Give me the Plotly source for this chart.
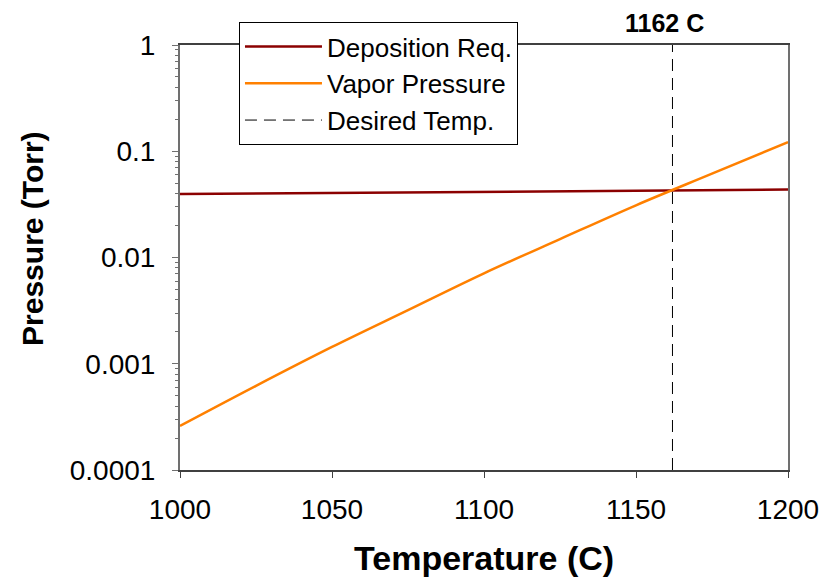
import plotly.graph_objects as go

temp = [1000, 1025, 1050, 1075, 1100, 1125, 1150, 1175, 1200]
deposition_req = [0.0395, 0.0400, 0.0405, 0.0410, 0.0415, 0.0420, 0.0425, 0.0430, 0.0436]
vapor_pressure = [0.00026, 0.00062, 0.00144, 0.0032, 0.0071, 0.0149, 0.031, 0.0615, 0.122]
desired_temp = 1162
y_ticks = [1e-4, 1e-3, 1e-2, 1e-1, 1]
y_ticktext = ["0.0001", "0.001", "0.01", "0.1", "1"]
x_ticks = [1000, 1050, 1100, 1150, 1200]

minor_vals = [m * 10 ** e for e in range(-4, 0) for m in range(2, 10)]

FONT = "Liberation Sans, Arial, sans-serif"

fig = go.Figure()
fig.add_trace(go.Scatter(x=temp, y=deposition_req, mode="lines", name="Deposition Req.",
                         line=dict(color="#8B0000", width=2.5)))
fig.add_trace(go.Scatter(x=temp, y=vapor_pressure, mode="lines", name="Vapor Pressure",
                         line=dict(color="#FF8000", width=2.5), line_shape="spline"))
fig.add_trace(go.Scatter(x=[desired_temp, desired_temp], y=[1e-4, 1], mode="lines",
                         name="Desired Temp.", line=dict(color="black", width=1, dash="12px,7px")))

fig.add_annotation(x=desired_temp, xref="x", y=1.051, yref="paper", text="<b>1162 C</b>",
                   showarrow=False, xshift=-8, yanchor="middle",
                   font=dict(size=25, color="black", family=FONT))
fig.add_annotation(x=0.5, xref="paper", y=-0.207, yref="paper", text="<b>Temperature (C)</b>",
                   showarrow=False, yanchor="middle", xanchor="center",
                   font=dict(size=34, color="black", family=FONT))
fig.add_annotation(x=-0.2418, xref="paper", y=0.546, yref="paper", text="<b>Pressure (Torr)</b>",
                   showarrow=False, textangle=-90, yanchor="middle", xanchor="center",
                   font=dict(size=30, color="black", family=FONT))

fig.update_layout(
    width=836, height=580,
    margin=dict(l=172, r=56, t=37, b=118),
    paper_bgcolor="white", plot_bgcolor="white",
    font=dict(family=FONT, color="black"),
    showlegend=True,
    legend=dict(x=0.097, y=1.054, xanchor="left", yanchor="top",
                bordercolor="black", borderwidth=1, bgcolor="white", itemwidth=77,
                font=dict(size=26, family=FONT), tracegroupgap=0),
    xaxis=dict(range=[1000, 1200], tickvals=x_ticks, ticks="outside", ticklen=6,
               tickcolor="#404040", showline=True, linecolor="#404040", linewidth=1.5,
               mirror=True, showgrid=False, zeroline=False, ticklabelstandoff=8,
               tickfont=dict(size=28, family=FONT)),
    yaxis=dict(type="log", range=[-4, 0], tickvals=y_ticks, ticktext=y_ticktext,
               ticks="outside", ticklen=6, tickcolor="#707070",
               showline=True, linecolor="#707070", linewidth=2, mirror=True,
               showgrid=False, zeroline=False, ticklabelstandoff=11,
               tickfont=dict(size=28, family=FONT),
               minor=dict(tickmode="array", tickvals=minor_vals, ticks="outside", ticklen=3,
                          tickcolor="#707070", showgrid=False)),
)

fig.write_html("out.html")
